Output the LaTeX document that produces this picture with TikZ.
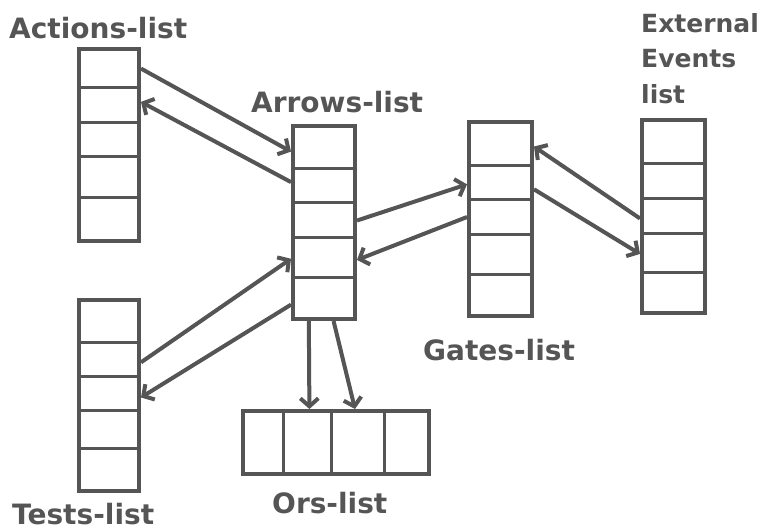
\documentclass[tikz,border=0pt]{standalone}
\usepackage{fontspec}
\setsansfont{DejaVu Sans}
\usetikzlibrary{arrows.meta,calc}
\definecolor{ListInk}{RGB}{85,85,85}

\begin{document}
\begin{tikzpicture}[x=1pt,y=-1pt,
  listbox/.style={draw=ListInk,line width=4pt,inner sep=0pt},
  divider/.style={draw=ListInk,line width=3pt},
  link/.style={draw=ListInk,line width=4pt,-{Straight Barb[length=8pt,width=18pt]}},
  listname/.style={font=\sffamily\bfseries\fontsize{28}{35.5}\selectfont,text=ListInk,inner sep=0pt}]
\useasboundingbox (0,0) rectangle (763,531);

% the lists
\node[listbox,minimum width=60pt,minimum height=192pt] (actions) at (109,145) {};
\node[listbox,minimum width=62pt,minimum height=193pt] (arrows) at (324,222.5) {};
\node[listbox,minimum width=63pt,minimum height=194pt] (gates) at (500.5,219) {};
\node[listbox,minimum width=63pt,minimum height=193pt] (events) at (673.5,216.5) {};
\node[listbox,minimum width=60pt,minimum height=191pt] (tests) at (109,395.5) {};
\node[listbox,minimum width=186pt,minimum height=63pt] (ors) at (336,442.5) {};

% cells
\foreach \lst/\cuts in {actions/{.208,.385,.557,.766},arrows/{.228,.399,.575,.777},gates/{.232,.402,.577,.778},events/{.233,.409,.585,.782},tests/{.230,.403,.576,.770}}
  \foreach \f in \cuts
    \draw[divider] ($(\lst.north west)!\f!(\lst.south west)$) -- ($(\lst.north east)!\f!(\lst.south east)$);
\foreach \f in {.226,.478,.753}
  \draw[divider] ($(ors.north west)!\f!(ors.north east)$) -- ($(ors.south west)!\f!(ors.south east)$);

% names
\node[listname,anchor=base west] (actionsname) at (9,38) {Actions-list};
\node[listname,anchor=base west] (arrowsname) at (251,112) {Arrows-list};
\node[listname,anchor=base west] (gatesname) at (423,360) {Gates-list};
\node[listname,font=\sffamily\bfseries\fontsize{25}{35.5}\selectfont,anchor=north west,align=left] (eventsname) at (641,13) {External\\Events\\list};
\node[listname,anchor=base west] (testsname) at (12,524) {Tests-list};
\node[listname,anchor=base west] (orsname) at (272,513) {Ors-list};

% pointers
\draw[link] ($(actions.north east)!.11!(actions.south east)$) -- ($(arrows.north west)!.14!(arrows.south west)$);
\draw[link] ($(arrows.north west)!.295!(arrows.south west)$) -- ($(actions.north east)!.28!(actions.south east)$);
\draw[link] ($(arrows.north east)!.49!(arrows.south east)$) -- ($(gates.north west)!.325!(gates.south west)$);
\draw[link] ($(gates.north west)!.49!(gates.south west)$) -- ($(arrows.north east)!.69!(arrows.south east)$);
\draw[link] ($(events.north west)!.51!(events.south west)$) -- ($(gates.north east)!.134!(gates.south east)$);
\draw[link] ($(gates.north east)!.35!(gates.south east)$) -- ($(events.north west)!.69!(events.south west)$);
\draw[link] ($(tests.north east)!.33!(tests.south east)$) -- ($(arrows.north west)!.684!(arrows.south west)$);
\draw[link] ($(arrows.north west)!.917!(arrows.south west)$) -- ($(tests.north east)!.51!(tests.south east)$);
\draw[link] ($(arrows.south west)!.27!(arrows.south east)$) -- ($(ors.north west)!.36!(ors.north east)$);
\draw[link] ($(arrows.south west)!.645!(arrows.south east)$) -- ($(ors.north west)!.60!(ors.north east)$);
\end{tikzpicture}
\end{document}
